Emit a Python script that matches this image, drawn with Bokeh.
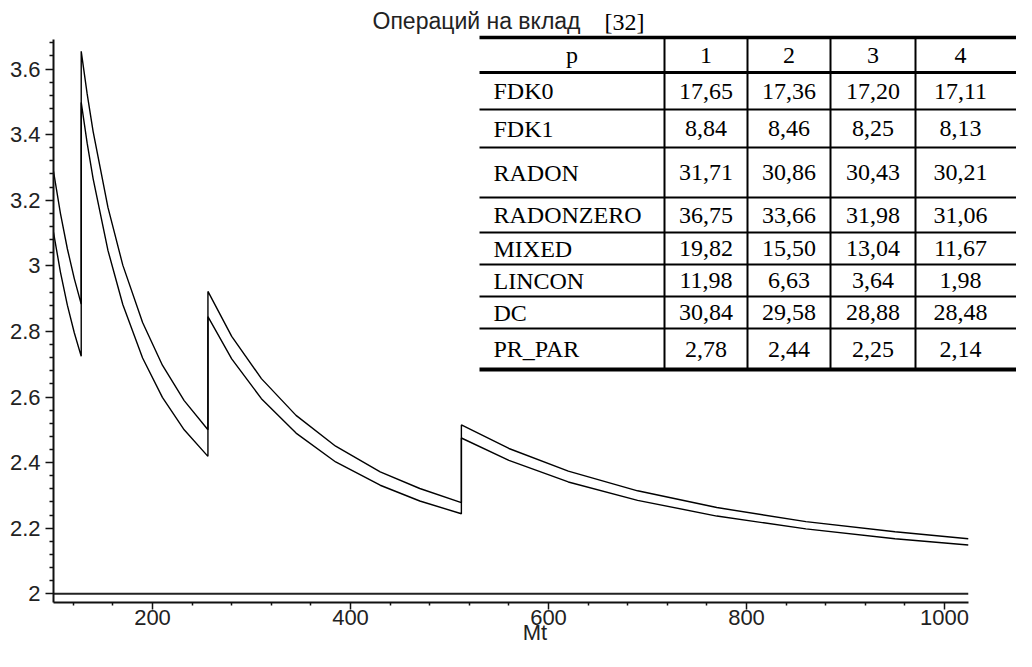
from bokeh.plotting import figure
from bokeh.models import Range1d, FixedTicker, CustomJSTickFormatter, Label
from bokeh.embed import file_html
from bokeh.resources import INLINE
from bokeh.core.properties import value

# ---------------- data ----------------
title_text = "Операций на вклад"
ref_text = "[32]"
x_label = "Mt"

mt = [100, 107, 114, 121, 128,
      128, 134, 140, 155, 170, 190, 210, 232, 256,
      256, 280, 310, 345, 385, 430, 470, 512,
      512, 560, 620, 690, 770, 860, 950, 1024]
ops_upper = [3.288, 3.160, 3.052, 2.961, 2.883,
             3.654, 3.524, 3.410, 3.178, 3.002, 2.827, 2.697, 2.589, 2.500,
             2.922, 2.785, 2.656, 2.544, 2.450, 2.372, 2.321, 2.278,
             2.515, 2.443, 2.374, 2.314, 2.263, 2.220, 2.189, 2.168]
ops_lower = [3.102, 2.981, 2.880, 2.796, 2.724,
             3.498, 3.374, 3.266, 3.047, 2.882, 2.719, 2.599, 2.500, 2.419,
             2.845, 2.716, 2.595, 2.490, 2.402, 2.331, 2.283, 2.244,
             2.475, 2.407, 2.341, 2.285, 2.237, 2.198, 2.168, 2.149]
limit_x = [100, 1024]
limit_y = [2.0, 2.0]

x_major = [200, 400, 600, 800, 1000]
x_minor = [120, 160, 240, 280, 320, 360, 440, 480, 520, 560, 640, 680, 720, 760, 840, 880, 920, 960]
y_major = [2.0, 2.2, 2.4, 2.6, 2.8, 3.0, 3.2, 3.4, 3.6]
y_minor = [2.04, 2.08, 2.12, 2.16, 2.24, 2.28, 2.32, 2.36, 2.44, 2.48, 2.52, 2.56,
           2.64, 2.68, 2.72, 2.76, 2.84, 2.88, 2.92, 2.96, 3.04, 3.08, 3.12, 3.16,
           3.24, 3.28, 3.32, 3.36, 3.44, 3.48, 3.52, 3.56, 3.64, 3.68]

table_header = ["p", "1", "2", "3", "4"]
table_methods = ["FDK0", "FDK1", "RADON", "RADONZERO", "MIXED", "LINCON", "DC", "PR_PAR"]
table_p1 = [17.65, 8.84, 31.71, 36.75, 19.82, 11.98, 30.84, 2.78]
table_p2 = [17.36, 8.46, 30.86, 33.66, 15.50, 6.63, 29.58, 2.44]
table_p3 = [17.20, 8.25, 30.43, 31.98, 13.04, 3.64, 28.88, 2.25]
table_p4 = [17.11, 8.13, 30.21, 31.06, 11.67, 1.98, 28.48, 2.14]

# ---------------- layout helpers (page pixel -> data) ----------------
def X(px):
    return 100 + (px - 61) / 0.99

def Y(py):
    return 3.6 - (py - 76.5) / 328.0

W, H = 1016, 651
FRAME_BOTTOM = 610   # page pixel of the x axis line
p = figure(width=W, height=H, output_backend="svg", toolbar_location=None,
           x_range=Range1d(X(61), X(1024)), y_range=Range1d(Y(FRAME_BOTTOM), Y(8)),
           min_border_left=53, min_border_right=0, min_border_top=0,
           min_border_bottom=H - (FRAME_BOTTOM - 8))
p.outline_line_color = None
p.grid.visible = False
p.background_fill_color = "white"
p.border_fill_color = "white"

# axes
sans = "Liberation Sans"
p.xaxis.ticker = FixedTicker(ticks=x_major, minor_ticks=x_minor)
p.yaxis.ticker = FixedTicker(ticks=y_major, minor_ticks=y_minor)
p.yaxis.formatter = CustomJSTickFormatter(code="return Number(tick.toFixed(1)).toString();")
p.xaxis.bounds = (100, 1024)
p.yaxis.bounds = (Y(FRAME_BOTTOM), Y(47))
for ax in (p.xaxis, p.yaxis):
    ax.axis_line_width = 2
    ax.axis_line_color = "#111111"
    ax.major_tick_line_color = "#111111"
    ax.minor_tick_line_color = "#111111"
    ax.major_tick_line_width = 1.5
    ax.minor_tick_line_width = 1.5
    ax.major_tick_in = 0
    ax.minor_tick_in = 0
    ax.major_label_text_font = sans
    ax.major_label_text_font_size = "22px"
    ax.major_label_text_color = "#222222"
p.xaxis.major_tick_out = 7
p.xaxis.minor_tick_out = 3
p.xaxis.major_label_standoff = 0
p.xaxis.axis_label = x_label
p.xaxis.axis_label_text_font = sans
p.xaxis.axis_label_text_font_size = "22px"
p.xaxis.axis_label_text_font_style = "normal"
p.xaxis.axis_label_text_color = "#222222"
p.xaxis.axis_label_standoff = -8
p.yaxis.major_tick_out = 8
p.yaxis.minor_tick_out = 4
p.yaxis.major_label_standoff = 5

# curves
p.line(limit_x, limit_y, line_color="#222222", line_width=2)
p.line(mt, ops_upper, line_color="black", line_width=1.4)
p.line(mt, ops_lower, line_color="black", line_width=1.4)

# ---------------- table ----------------
col_edges = [487, 672, 755, 838, 923, 1040]
row_edges = [45, 80, 117, 155, 205, 240, 272, 304, 336, 377]
row_widths = [3.5, 3, 2, 2, 2, 2, 2, 2, 2, 4]
p.segment(x0=[X(487)] * len(row_edges), x1=[X(1040)] * len(row_edges),
          y0=[Y(r) for r in row_edges], y1=[Y(r) for r in row_edges],
          line_color="black", line_width=row_widths)
vx = col_edges[1:5]
p.segment(x0=[X(c) for c in vx], x1=[X(c) for c in vx],
          y0=[Y(45)] * 4, y1=[Y(377)] * 4, line_color="black", line_width=2)

col_centers = [(col_edges[i] + col_edges[i + 1]) / 2 for i in range(len(col_edges) - 1)]
col_centers[-1] = 968
row_centers = [(row_edges[i] + row_edges[i + 1]) / 2 for i in range(len(row_edges) - 1)]

serif = value("Liberation Serif")
p.text(x=[X(c) for c in col_centers], y=[Y(row_centers[0])] * 5, text=table_header,
       text_font=serif, text_font_size="24px", text_align="center",
       text_baseline="middle", text_color="black")
p.text(x=[X(501)] * len(table_methods), y=[Y(r) for r in row_centers[1:]], text=table_methods,
       text_font=serif, text_font_size="24px", text_align="left",
       text_baseline="middle", text_color="black")
for ci, col in enumerate([table_p1, table_p2, table_p3, table_p4]):
    labels = [f"{v:.2f}".replace(".", ",") for v in col]
    p.text(x=[X(col_centers[ci + 1])] * len(labels), y=[Y(r) for r in row_centers[1:]],
           text=labels, text_font=serif, text_font_size="24px", text_align="center",
           text_baseline="middle", text_color="black")

# title
p.add_layout(Label(x=X(380), y=Y(28), text=title_text, text_font=sans,
                   text_font_size="23px", text_baseline="alphabetic", text_align="left",
                   text_color="#222222"))
p.add_layout(Label(x=X(612), y=Y(29), text=ref_text, text_font="Liberation Serif",
                   text_font_size="24px", text_baseline="alphabetic", text_align="left",
                   text_color="black"))

open("out.html", "w").write(file_html(p, INLINE))
